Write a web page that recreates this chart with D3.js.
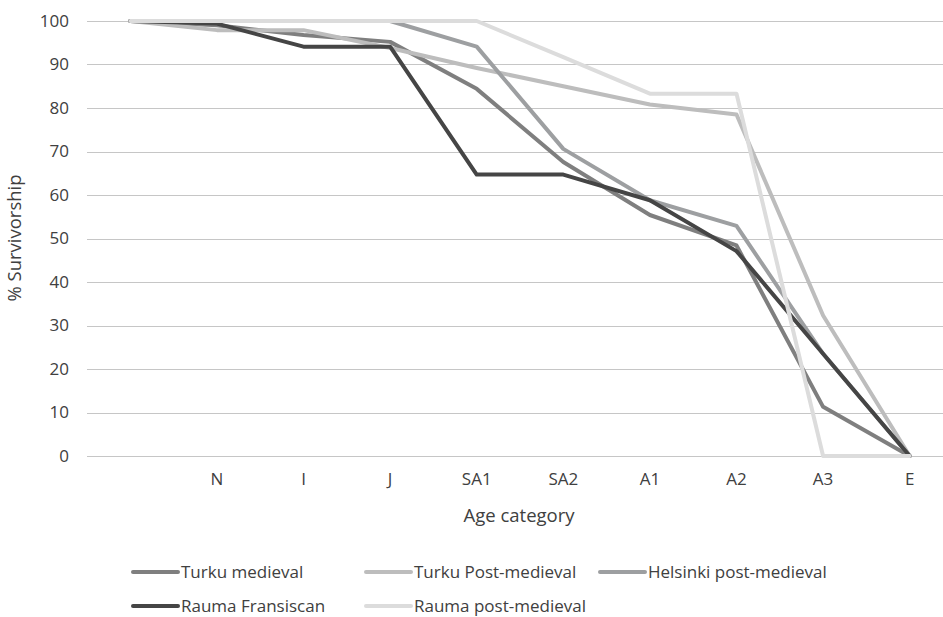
<!DOCTYPE html>
<html>
<head>
<meta charset="utf-8">
<script src="https://cdn.jsdelivr.net/npm/d3@7"></script>
<style>
  html, body { margin: 0; padding: 0; background: #fff; }
  svg { display: block; }
  text { font-family: "Open Sans", Lato, sans-serif; fill: #404040; }
</style>
</head>
<body>
<svg id="chart" width="943" height="617"></svg>
<script>
// Age categories (the first one is the unlabelled starting cohort)
const categories = ["", "N", "I", "J", "SA1", "SA2", "A1", "A2", "A3", "E"];
const yTicks = [0, 10, 20, 30, 40, 50, 60, 70, 80, 90, 100];

// % survivorship per site
const turkuMedieval     = [100, 99.0, 96.8, 95.2, 84.4, 67.6, 55.4, 48.4, 11.3, 0];
const turkuPostMedieval = [100, 97.9, 97.9, 93.8, 89.2, 85.0, 80.8, 78.5, 32.3, 0];
const helsinkiPost      = [100, 100, 100, 100, 94.1, 70.6, 58.8, 52.9, 23.5, 0];
const raumaFransiscan   = [100, 99.4, 94.1, 94.1, 64.7, 64.7, 58.8, 47.1, 23.5, 0];
const raumaPost         = [100, 100, 100, 100, 100, 91.7, 83.3, 83.3, 0, 0];

const seriesNames = ["Turku medieval", "Turku Post-medieval", "Helsinki post-medieval",
                     "Rauma Fransiscan", "Rauma post-medieval"];
const seriesValues = [turkuMedieval, turkuPostMedieval, helsinkiPost, raumaFransiscan, raumaPost];
const seriesColors = ["#7f7f7f", "#bdbdbd", "#9d9fa1", "#454545", "#dcdcdc"];

const tickFont = "17px";
const titleFont = "18.5px";

const svg = d3.select("#chart");

const x = d3.scaleBand().domain(categories).range([87, 953]).padding(0);
const y = d3.scaleLinear().domain([0, 100]).range([456, 21]);
const cx = c => x(c) + x.bandwidth() / 2;

// horizontal gridlines
svg.append("g")
  .selectAll("line")
  .data(yTicks)
  .join("line")
  .attr("x1", 87).attr("x2", 953)
  .attr("y1", d => Math.round(y(d)) + 0.5)
  .attr("y2", d => Math.round(y(d)) + 0.5)
  .attr("stroke", "#c6c6c6")
  .attr("stroke-width", 1.2);

// y axis labels
const yAxis = d3.axisLeft(y).tickValues(yTicks).tickSize(0).tickPadding(0);
const gy = svg.append("g").attr("transform", "translate(69,0)").call(yAxis);
gy.select(".domain").remove();
gy.selectAll("text").style("font-size", tickFont).style("font-family", "'Open Sans', sans-serif")
  .attr("fill", "#404040");

// x axis labels
const xAxis = d3.axisBottom(x).tickSize(0).tickPadding(0);
const gx = svg.append("g").attr("transform", "translate(0,473)").call(xAxis);
gx.select(".domain").remove();
gx.selectAll("text").style("font-size", tickFont).style("font-family", "'Open Sans', sans-serif")
  .attr("fill", "#404040");

// axis titles
svg.append("text")
  .attr("x", 519).attr("y", 522)
  .attr("text-anchor", "middle")
  .style("font-size", titleFont)
  .text("Age category");

svg.append("text")
  .attr("transform", "translate(21,238) rotate(-90)")
  .attr("text-anchor", "middle")
  .style("font-size", titleFont)
  .text("% Survivorship");

// survivorship lines
const line = d3.line()
  .x((d, i) => cx(categories[i]))
  .y(d => y(d));

svg.append("g")
  .selectAll("path")
  .data(seriesValues)
  .join("path")
  .attr("d", d => line(d))
  .attr("fill", "none")
  .attr("stroke", (d, i) => seriesColors[i])
  .attr("stroke-width", 4)
  .attr("stroke-linejoin", "round")
  .attr("stroke-linecap", "round");

// legend
const legendPos = [
  { lx: 133, ly: 572 }, { lx: 366, ly: 572 }, { lx: 600, ly: 572 },
  { lx: 133, ly: 606 }, { lx: 366, ly: 606 }
];
const legend = svg.append("g")
  .selectAll("g")
  .data(seriesNames)
  .join("g")
  .attr("transform", (d, i) => `translate(${legendPos[i].lx},${legendPos[i].ly})`);

legend.append("line")
  .attr("x1", 0).attr("x2", 45).attr("y1", 0).attr("y2", 0)
  .attr("stroke", (d, i) => seriesColors[i])
  .attr("stroke-width", 4)
  .attr("stroke-linecap", "round");

legend.append("text")
  .attr("x", 48).attr("y", 0)
  .attr("dy", "0.35em")
  .style("font-size", tickFont)
  .text(d => d);
</script>
</body>
</html>
